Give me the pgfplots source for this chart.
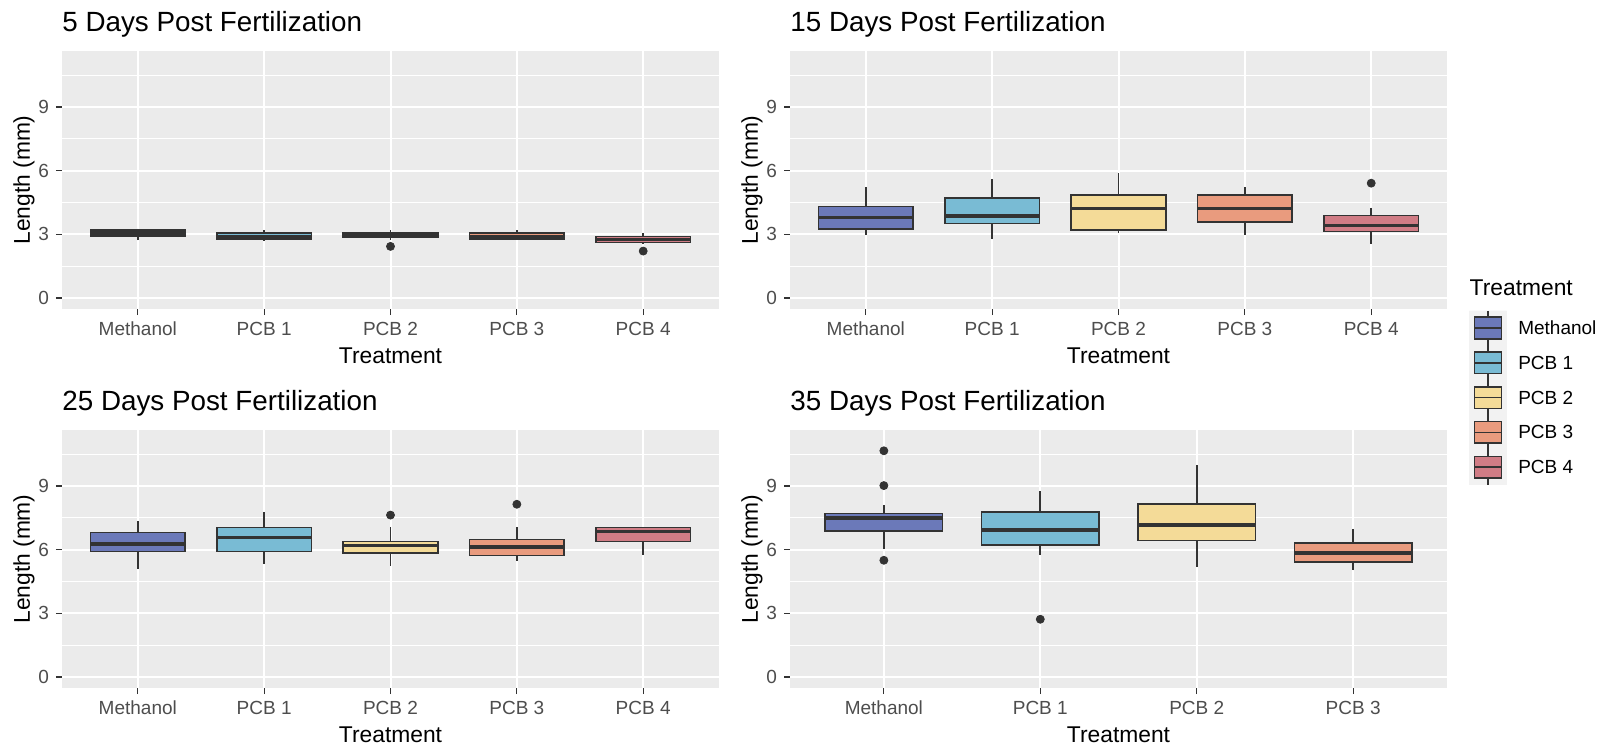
\documentclass[border=0pt]{standalone}
\usepackage{fontspec}
\setmainfont{Liberation Sans}
\usepackage{pgfplots}
\pgfplotsset{compat=1.18}
\usepgfplotslibrary{statistics}
\definecolor{dk}{HTML}{333333}
\definecolor{tl}{HTML}{4D4D4D}
\definecolor{pbg}{HTML}{EBEBEB}
\definecolor{kbg}{HTML}{F2F2F2}
\definecolor{cM}{HTML}{6B79B9}
\definecolor{cA}{HTML}{79BBD4}
\definecolor{cB}{HTML}{F4DB98}
\definecolor{cC}{HTML}{E99B7E}
\definecolor{cD}{HTML}{D07C85}
\newcommand\ticksz{\fontsize{9.5}{11}\selectfont}
\newcommand\labsz{\fontsize{11.4}{13}\selectfont}
\newcommand\titsz{\fontsize{13.9}{16}\selectfont}
\newcommand\bx[7]{%
  \addplot[fill=#2, draw=dk, line width=0.8pt,
    boxplot prepared={draw position=#1, lower whisker=#3, lower quartile=#4,
      median=#5, upper quartile=#6, upper whisker=#7}] coordinates {};}
\pgfplotsset{
  ggpanel/.style={
    scale only axis, width=328.5pt, height=129pt,
    ymin=-0.52, ymax=11.64, enlargelimits=false,
    ytick={0,3,6,9}, minor ytick={1.5,4.5,7.5,10.5},
    tick pos=left, tick align=outside,
    major tick length=3pt, minor tick length=0pt,
    every tick/.style={dk, line width=0.6pt},
    axis line style={draw=none},
    axis background/.style={fill=pbg},
    xmajorgrids, ymajorgrids, yminorgrids,
    major grid style={white, line width=1pt},
    minor grid style={white, line width=0.5pt},
    ticklabel style={font=\ticksz, text=tl},
    /pgf/number format/assume math mode=true,
    xlabel={Treatment}, ylabel={Length (mm)},
    label style={font=\labsz},
    xlabel style={at={(axis description cs:0.5,-0.182)}, anchor=center},
    ylabel style={at={(axis description cs:-0.058,0.5)}, anchor=center},
    title style={at={(axis description cs:0,1)}, anchor=base west, inner sep=0pt,
      yshift=3.9pt, font=\titsz},
    boxplot/draw direction=y,
    boxplot/box extend=0.75, boxplot/whisker extend=0,
    boxplot/every median/.style={line width=1.8pt},
  },
  five/.style={xmin=-0.6, xmax=4.6, xtick={0,1,2,3,4},
    xticklabels={Methanol,PCB 1,PCB 2,PCB 3,PCB 4}},
  four/.style={xmin=-0.6, xmax=3.6, xtick={0,1,2,3},
    xticklabels={Methanol,PCB 1,PCB 2,PCB 3}},
  outl/.style={only marks, mark=*, mark size=2pt, dk, mark options={fill=dk, draw=dk}},
}
\begin{document}
\begin{tikzpicture}
\useasboundingbox (0,0) rectangle (800pt,375.5pt);
% ---------- 5 dpf
\begin{axis}[ggpanel, five, at={(31pt,221pt)}, anchor=south west,
  title={5 Days Post Fertilization}]
\bx{0}{cM}{2.72}{2.92}{3.05}{3.20}{3.27}
\bx{1}{cA}{2.69}{2.77}{2.88}{3.05}{3.19}
\bx{2}{cB}{2.75}{2.85}{2.95}{3.07}{3.19}
\bx{3}{cC}{2.74}{2.77}{2.90}{3.05}{3.19}
\bx{4}{cD}{2.56}{2.62}{2.75}{2.90}{3.05}
\addplot[outl] coordinates {(2,2.43) (4,2.21)};
\end{axis}
% ---------- 15 dpf
\begin{axis}[ggpanel, five, at={(395pt,221pt)}, anchor=south west,
  title={15 Days Post Fertilization}]
\bx{0}{cM}{2.96}{3.26}{3.79}{4.32}{5.23}
\bx{1}{cA}{2.76}{3.51}{3.85}{4.70}{5.59}
\bx{2}{cB}{3.06}{3.21}{4.21}{4.85}{5.88}
\bx{3}{cC}{2.96}{3.59}{4.21}{4.85}{5.23}
\bx{4}{cD}{2.54}{3.14}{3.42}{3.88}{4.26}
\addplot[outl] coordinates {(4,5.41)};
\end{axis}
% ---------- 25 dpf
\begin{axis}[ggpanel, five, at={(31pt,31.5pt)}, anchor=south west,
  title={25 Days Post Fertilization}]
\bx{0}{cM}{5.11}{5.92}{6.28}{6.81}{7.34}
\bx{1}{cA}{5.33}{5.92}{6.58}{7.05}{7.78}
\bx{2}{cB}{5.25}{5.84}{6.20}{6.39}{7.06}
\bx{3}{cC}{5.48}{5.72}{6.13}{6.47}{7.06}
\bx{4}{cD}{5.75}{6.38}{6.86}{7.05}{7.05}
\addplot[outl] coordinates {(2,7.63) (3,8.14)};
\end{axis}
% ---------- 35 dpf
\begin{axis}[ggpanel, four, at={(395pt,31.5pt)}, anchor=south west,
  title={35 Days Post Fertilization}]
\bx{0}{cM}{6.02}{6.88}{7.50}{7.70}{8.09}
\bx{1}{cA}{5.77}{6.23}{6.92}{7.77}{8.75}
\bx{2}{cB}{5.16}{6.44}{7.16}{8.14}{10.00}
\bx{3}{cC}{5.03}{5.42}{5.84}{6.31}{6.98}
\addplot[outl] coordinates {(0,10.66) (0,9.02) (0,5.50) (1,2.72)};
\end{axis}
% ---------- legend (keys drawn as boxplots in a small axis)
\begin{axis}[at={(734.65pt,133.2pt)}, anchor=south west,
  scale only axis, width=18.7pt, height=87pt,
  xmin=-0.5, xmax=0.5, ymin=-0.5, ymax=4.5, y dir=reverse,
  enlargelimits=false, hide axis, clip=false,
  axis background/.style={fill=kbg},
  boxplot/draw direction=y, boxplot/box extend=0.73, boxplot/whisker extend=0,
  boxplot/every whisker/.style={line width=0.6pt},
  boxplot/every median/.style={line width=0.8pt}]
\addplot[fill=kbg, draw=none, forget plot] coordinates {(-0.5,-0.5) (0.5,-0.5) (0.5,4.5) (-0.5,4.5)} \closedcycle;
\bx{0}{cM}{-0.5}{-0.31}{0}{0.31}{0.5}
\bx{0}{cA}{0.5}{0.69}{1}{1.31}{1.5}
\bx{0}{cB}{1.5}{1.69}{2}{2.31}{2.5}
\bx{0}{cC}{2.5}{2.69}{3}{3.31}{3.5}
\bx{0}{cD}{3.5}{3.69}{4}{4.31}{4.5}
\node[anchor=west, inner sep=0pt, font=\ticksz, xshift=5.6pt] at (axis cs:0.5,0) {Methanol};
\node[anchor=west, inner sep=0pt, font=\ticksz, xshift=5.6pt] at (axis cs:0.5,1) {PCB 1};
\node[anchor=west, inner sep=0pt, font=\ticksz, xshift=5.6pt] at (axis cs:0.5,2) {PCB 2};
\node[anchor=west, inner sep=0pt, font=\ticksz, xshift=5.6pt] at (axis cs:0.5,3) {PCB 3};
\node[anchor=west, inner sep=0pt, font=\ticksz, xshift=5.6pt] at (axis cs:0.5,4) {PCB 4};
\node[anchor=west, inner sep=0pt, font=\labsz, yshift=11.3pt] at (axis cs:-0.5,-0.5) {Treatment};
\end{axis}
\end{tikzpicture}
\end{document}
